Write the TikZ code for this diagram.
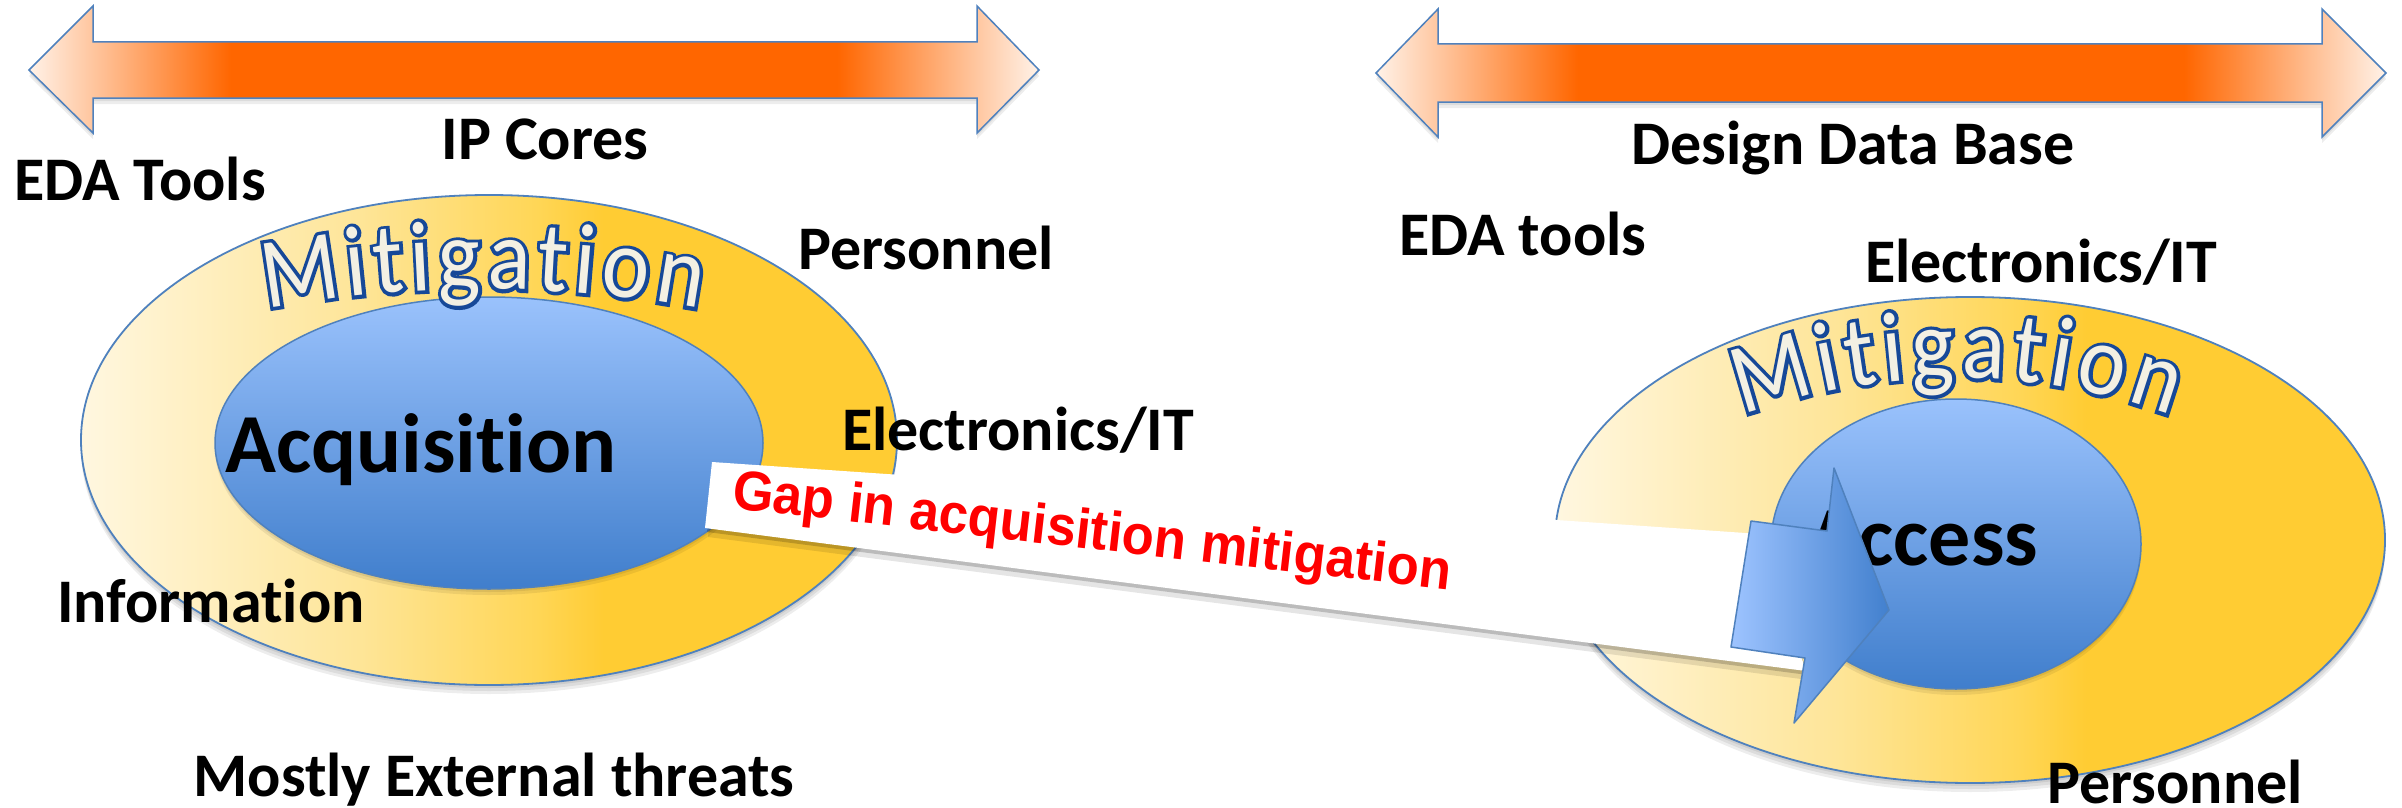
\documentclass[tikz,border=0pt]{standalone}
\usepackage{fontspec}
\setmainfont{Carlito}[Ligatures=NoCommon]
\newfontfamily\gapfont{Liberation Sans}[FakeStretch=0.94]
\newfontfamily\mitfam{Carlito}[FakeStretch=0.9]
\newfontfamily\mitboldfam{Carlito}[FakeStretch=0.9,FakeBold=7]
\usetikzlibrary{decorations.text}

\definecolor{bordblue}{RGB}{79,129,189}
\definecolor{orangeF}{RGB}{255,102,0}
\definecolor{peach}{RGB}{255,242,232}
\definecolor{gold0}{RGB}{255,247,224}
\definecolor{gold1}{RGB}{254,229,152}
\definecolor{gold2}{RGB}{255,214,86}
\definecolor{gold3}{RGB}{255,204,51}
\definecolor{blueT}{RGB}{154,194,252}
\definecolor{blueB}{RGB}{64,126,204}
\definecolor{arrL}{RGB}{158,196,255}
\definecolor{arrR}{RGB}{66,128,206}
\definecolor{mblue}{RGB}{22,72,152}
\definecolor{cream}{RGB}{243,240,227}
\definecolor{gapred}{RGB}{255,0,0}

\pgfdeclarehorizontalshading{orangesh}{100bp}{color(0bp)=(peach); color(25bp)=(peach); color(35bp)=(orangeF); color(65bp)=(orangeF); color(75bp)=(peach); color(100bp)=(peach)}
\pgfdeclarehorizontalshading{goldsh}{100bp}{color(0bp)=(gold0); color(25bp)=(gold0); color(42bp)=(gold1); color(53bp)=(gold2); color(57bp)=(gold3); color(100bp)=(gold3)}

\newcommand\mitfnt{\mitfam\fontsize{100}{100}\selectfont}
\newcommand\mitbfnt{\mitboldfam\fontsize{100}{100}\selectfont}
% #1 x, #2 y of arc centre, #3 radius, #4 start angle, #5 end angle
\newcommand\mitword[5]{%
  \path[decorate, decoration={text along path, text align=fit to path,
      text={|\mitbfnt\color{mblue}|Mitigation}}]
      ([shift={(#4:#3)}]#1,#2) arc[start angle=#4, end angle=#5, radius=#3];
  \path[decorate, decoration={text along path, text align=fit to path,
      text={|\mitfnt\color{cream}|Mitigation}}]
      ([shift={(#4:#3)}]#1,#2) arc[start angle=#4, end angle=#5, radius=#3];
}

\begin{document}
\begin{tikzpicture}[x=1pt,y=1pt,
  lbl/.style={font=\fontsize{62}{62}\selectfont\bfseries, inner sep=0pt, anchor=base},
  big/.style={font=\fontsize{84}{84}\selectfont\bfseries, inner sep=0pt, anchor=base},
  gapstyle/.style={font=\gapfont\fontsize{56}{56}\selectfont\bfseries, text=gapred, inner sep=0pt},
  bord/.style={draw=bordblue, line width=1.8pt},
  softshadow/.style={fill=black, opacity=0.07}
]
\useasboundingbox (0,0) rectangle (2402,-808);
\fill[white] (0,0) rectangle (2402,-808);

% ---- top double arrows
\foreach \s in {3,6}{
  \fill[softshadow, shift={(0,-\s)}] (29,-70) -- (93,-6) -- (93,-42) -- (977,-42) -- (977,-6) -- (1039,-70) -- (977,-133) -- (977,-98) -- (93,-98) -- (93,-133) -- cycle;
  \fill[softshadow, shift={(0,-\s)}] (1376,-73) -- (1438,-9) -- (1438,-44) -- (2322,-44) -- (2322,-9) -- (2386,-73) -- (2322,-137) -- (2322,-102) -- (1438,-102) -- (1438,-137) -- cycle;
}
\shade[shading=orangesh, draw=bordblue, line width=1.5pt] (29,-70) -- (93,-6) -- (93,-42) -- (977,-42) -- (977,-6) -- (1039,-70) -- (977,-133) -- (977,-98) -- (93,-98) -- (93,-133) -- cycle;
\shade[shading=orangesh, draw=bordblue, line width=1.5pt] (1376,-73) -- (1438,-9) -- (1438,-44) -- (2322,-44) -- (2322,-9) -- (2386,-73) -- (2322,-137) -- (2322,-102) -- (1438,-102) -- (1438,-137) -- cycle;

% ---- left ellipses
\foreach \s in {3,6,9}{\fill[softshadow] (489,-440-\s) ellipse [x radius=408, y radius=245];}
\shade[shading=goldsh, bord] (489,-440) ellipse [x radius=408, y radius=245];
\foreach \s in {3,6}{\fill[softshadow] (489,-443-\s) ellipse [x radius=274, y radius=146];}
\shade[top color=blueT, bottom color=blueB, draw=bordblue, line width=1.5pt] (489,-443) ellipse [x radius=274, y radius=146];
\mitword{483}{-1489}{1200}{100.4}{79.6}
\node[big] (acq) at (421,-472) {Acquisition};

% ---- right ellipses
\foreach \s in {3,6,9}{\fill[softshadow] (1970,-540-\s) ellipse [x radius=415, y radius=243];}
\shade[shading=goldsh, bord] (1970,-540) ellipse [x radius=415, y radius=243];
\foreach \s in {3,6}{\fill[softshadow] (1956,-544-\s) ellipse [x radius=185, y radius=145];}
\shade[top color=blueT, bottom color=blueB, draw=bordblue, line width=1.5pt] (1956,-544) ellipse [x radius=185, y radius=145];
\mitword{1957}{-1004}{626}{110}{70}
\node[big] (acc) at (1923,-565) {Access};

% ---- gap band
\fill[black, opacity=0.10] ([shift={(3,-9)}]712,-462) -- ([shift={(3,-9)}]1760,-534) -- ([shift={(3,-9)}]1806,-671) -- ([shift={(3,-9)}]705,-528) -- cycle;
\fill[black, opacity=0.18] ([shift={(2,-4)}]712,-462) -- ([shift={(2,-4)}]1760,-534) -- ([shift={(2,-4)}]1806,-671) -- ([shift={(2,-4)}]705,-528) -- cycle;
\fill[white] (712,-462) -- (1760,-534) -- (1806,-671) -- (705,-528) -- cycle;

% ---- arrow head
\shade[left color=arrL, right color=arrR, draw=bordblue, line width=1.5pt, line join=round]
  (1751,-521) -- (1827,-531) -- (1834,-468) -- (1889,-610) -- (1794,-723) -- (1805,-658) -- (1731,-647) -- cycle;

\node[gapstyle, rotate=-6.5, anchor=base west] (gap) at (731,-508) {Gap in acquisition mitigation};

% ---- labels
\node[lbl] (ipc) at (545,-159) {IP Cores};
\node[lbl] (eda1) at (140,-200) {EDA Tools};
\node[lbl] (pers1) at (926,-269) {Personnel};
\node[lbl] (elec1) at (1018,-450) {Electronics/IT};
\node[lbl] (info) at (211,-622) {Information};
\node[lbl] (ext) at (494,-796) {Mostly External threats};
\node[lbl] (ddb) at (1853,-164) {Design Data Base};
\node[lbl] (eda2) at (1523,-255) {EDA tools};
\node[lbl] (elec2) at (2041,-282) {Electronics/IT};
\node[lbl] (pers2) at (2175,-803) {Personnel};
\end{tikzpicture}
\end{document}
